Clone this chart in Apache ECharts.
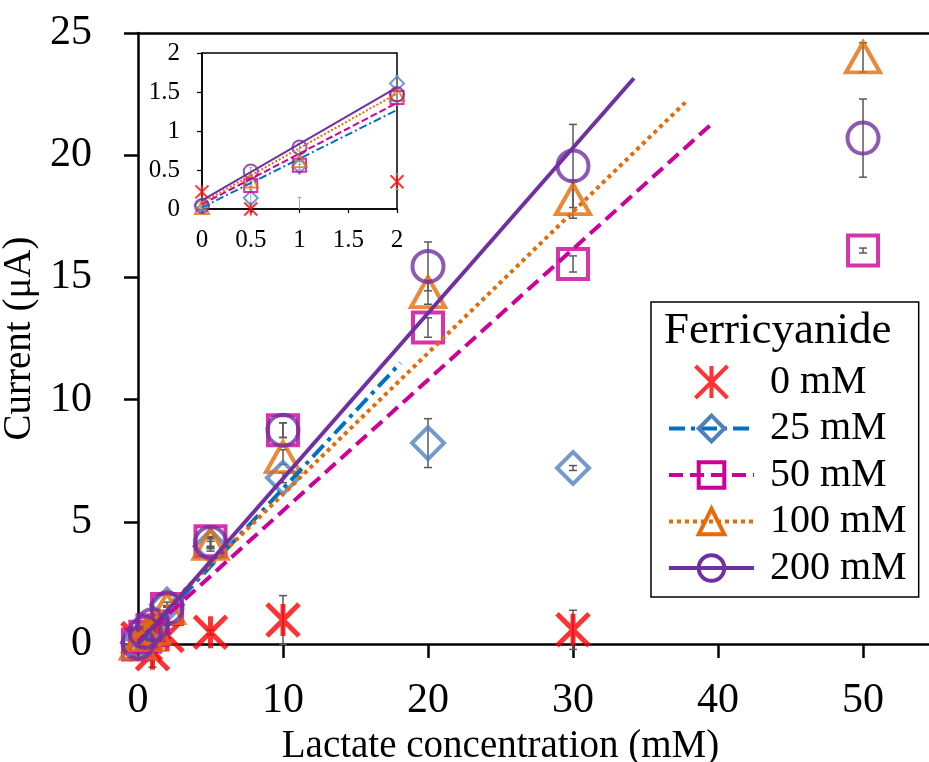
<!DOCTYPE html>
<html><head><meta charset="utf-8">
<script src="https://cdn.jsdelivr.net/npm/echarts@6/dist/echarts.min.js"></script>
<style>html,body{margin:0;padding:0;background:#fff}#c{width:929px;height:762px}</style>
</head><body><div id="c"></div>
<script>
// ---------- data ----------
const lactate = [0, 0.5, 1, 2, 5, 10, 20, 30, 50];          // mM
const seriesNames = ['0 mM', '25 mM', '50 mM', '100 mM', '200 mM'];
const cur0   = [0.22, 0.0, -0.4, 0.35, 0.48, 0.98, null, 0.58, null];
const cur25  = [0.05, 0.14, 0.55, 1.61, 4.0, 6.8, 8.22, 7.2, null];
const cur50  = [-0.02, 0.3, 0.56, 1.43, 4.2, 8.75, 12.95, 15.55, 16.1];
const cur100 = [0.02, 0.36, 0.62, 1.47, 4.1, 7.65, 14.4, 18.2, 24.0];
const cur200 = [0.04, 0.48, 0.79, 1.47, 4.15, 8.75, 15.45, 19.56, 20.7];
const err0   = [0.05, 0.05, 0.55, 0.1, 0.1, 1.0, null, 0.8, null];
const err25  = [0.02, 0.15, 0.1, 0.1, 0.2, 0.2, 1.0, 0.1, null];
const err50  = [0.02, 0.05, 0.05, 0.1, 0.2, 0.3, 0.4, 0.33, 0.1];
const err100 = [0.02, 0.05, 0.05, 0.1, 0.2, 0.3, 0.5, 0.78, 0.6];
const err200 = [0.02, 0.05, 0.05, 0.1, 0.2, 0.3, 1.0, 1.7, 1.6];
// linear trend lines (main plot): x range and fitted y at both ends
const fitX25 = [0, 18.1],  fitY25 = [0.0, 11.5];
const fitX50 = [0, 39.6],  fitY50 = [0.1, 21.3];
const fitX100 = [0, 37.9], fitY100 = [0.35, 22.25];
const fitX200 = [0, 34.2], fitY200 = [0.0, 23.15];
// inset trend lines (0–2 mM)
const insetFitX = [0, 2];
const insetFitY25 = [0.02, 1.27];
const insetFitY50 = [0.06, 1.36];
const insetFitY100 = [0.08, 1.48];
const insetFitY200 = [0.11, 1.56];
// axis ticks
const mainXTicks = [0, 10, 20, 30, 40, 50];
const mainYTicks = [0, 5, 10, 15, 20, 25];
const insetTicks = [0, 0.5, 1, 1.5, 2];

// ---------- styling ----------
const FONT = 'Liberation Serif';
const curs = [cur0, cur25, cur50, cur100, cur200];
const errs = [err0, err25, err50, err100, err200];
const fitsX = [null, fitX25, fitX50, fitX100, fitX200];
const fitsY = [null, fitY25, fitY50, fitY100, fitY200];
const insetFits = [null, insetFitY25, insetFitY50, insetFitY100, insetFitY200];
const markerColors = ['#FF0000', '#4F81BD', '#CC0099', '#E36C09', '#7030A0'];
const lineColors = ['#FF0000', '#0070C0', '#CC0099', '#E36C09', '#7030A0'];
const ASTER = 'path://M0,0L20,20M20,0L0,20M10,0L10,20';
const symbols = [ASTER, 'diamond', 'rect', 'triangle', 'circle'];
const mainSizes = [32, 32, 30, [34, 30], 31];
const insetSizes = [13, 14, 13, [14, 13], 14];
const mainBorder = [5, 4, 4, 4, 4];
const dashMain = [null, [16, 6, 4, 6], [14, 7], [4, 4], 'solid'];
const dashInset = [null, [8, 3, 2, 3], [7, 3], [2, 2], 'solid'];

function pts(xs, ys, maxX) {
  const out = [];
  for (let i = 0; i < xs.length; i++) {
    if (ys[i] === null || xs[i] > maxX) continue;
    out.push([xs[i], ys[i]]);
  }
  return out;
}
function errPts(xs, ys, es, maxX) {
  const out = [];
  for (let i = 0; i < xs.length; i++) {
    if (ys[i] === null || es[i] === null || xs[i] > maxX) continue;
    out.push([xs[i], ys[i], es[i]]);
  }
  return out;
}
function errRenderer(cap, color, width, clipY) {
  return function (params, api) {
    const x = api.value(0), y = api.value(1), e = api.value(2);
    let lo = y - e, hi = y + e;
    let capLo = true, capHi = true;
    if (clipY) {
      if (lo < clipY[0]) { lo = clipY[0]; capLo = false; }
      if (hi > clipY[1]) { hi = clipY[1]; capHi = false; }
    }
    const t = api.coord([x, hi]), b = api.coord([x, lo]);
    const st = { stroke: color, lineWidth: width };
    const ch = [{ type: 'line', shape: { x1: t[0], y1: t[1], x2: b[0], y2: b[1] }, style: st }];
    if (capHi) ch.push({ type: 'line', shape: { x1: t[0] - cap, y1: t[1], x2: t[0] + cap, y2: t[1] }, style: st });
    if (capLo) ch.push({ type: 'line', shape: { x1: b[0] - cap, y1: b[1], x2: b[0] + cap, y2: b[1] }, style: st });
    return { type: 'group', children: ch };
  };
}

const series = [];
for (let k = 0; k < 5; k++) {
  const name = seriesNames[k];
  if (fitsX[k]) {
    series.push({
      name: name, type: 'line', xAxisIndex: 0, yAxisIndex: 0,
      data: fitsX[k].map((x, i) => [x, fitsY[k][i]]),
      symbol: symbols[k], showSymbol: false, symbolSize: mainSizes[k],
      itemStyle: { color: 'rgba(255,255,255,0)', borderColor: markerColors[k], borderWidth: 4 },
      lineStyle: { color: lineColors[k], width: 4, type: dashMain[k], cap: 'butt' },
      z: 4, silent: true, animation: false
    });
  }
  series.push({
    name: name + ' err', type: 'custom', xAxisIndex: 0, yAxisIndex: 0,
    data: errPts(lactate, curs[k], errs[k], 100),
    renderItem: errRenderer(4, '#595959', 1.5, null),
    encode: { x: 0, y: 1 }, z: 1, silent: true, animation: false
  });
  series.push({
    name: name, type: 'scatter', xAxisIndex: 0, yAxisIndex: 0,
    data: pts(lactate, curs[k], 100),
    symbol: symbols[k], symbolSize: mainSizes[k], clip: false,
    itemStyle: { color: 'rgba(255,255,255,0)', borderColor: markerColors[k], borderWidth: mainBorder[k] },
    z: 2, silent: true, animation: false
  });
  if (insetFits[k]) {
    series.push({
      name: name + ' inset fit', type: 'line', xAxisIndex: 1, yAxisIndex: 1,
      data: insetFitX.map((x, i) => [x, insetFits[k][i]]),
      showSymbol: false, symbol: 'none',
      lineStyle: { color: lineColors[k], width: 2, type: dashInset[k] },
      z: 4, silent: true, animation: false
    });
  }
  series.push({
    name: name + ' inset err', type: 'custom', xAxisIndex: 1, yAxisIndex: 1,
    data: errPts(lactate, curs[k], errs[k], 2),
    renderItem: errRenderer(2, '#A6A6A6', 1, [insetTicks[0], insetTicks[insetTicks.length - 1]]),
    encode: { x: 0, y: 1 }, z: 1, silent: true, animation: false
  });
  series.push({
    name: name + ' inset', type: 'scatter', xAxisIndex: 1, yAxisIndex: 1,
    data: pts(lactate, curs[k], 2),
    symbol: symbols[k], symbolSize: insetSizes[k], clip: true,
    itemStyle: { color: 'rgba(255,255,255,0)', borderColor: markerColors[k], borderWidth: 2 },
    z: 2, silent: true, animation: false
  });
}

const axisLineMain = { show: true, lineStyle: { color: '#000', width: 2.5 } };
const axisLineInset = { show: true, lineStyle: { color: '#000', width: 1.5 } };

const option = {
  backgroundColor: '#fff',
  animation: false,
  title: {
    text: 'Ferricyanide', left: 659, top: 304,
    textStyle: { fontFamily: FONT, fontSize: 45, fontWeight: 'normal', color: '#000' }
  },
  legend: {
    data: seriesNames, orient: 'vertical', left: 651, top: 302,
    padding: [57, 12, 6, 16], itemGap: 0.5,
    itemWidth: 85, itemHeight: 32,
    borderColor: '#000', borderWidth: 1.5, backgroundColor: '#fff',
    lineStyle: { width: 4 },
    itemStyle: { borderWidth: 4 },
    textStyle: { fontFamily: FONT, fontSize: 40, color: '#000', lineHeight: 46, padding: [0, 0, 0, 11] },
    selectedMode: false
  },
  grid: [
    { left: 138, top: 33, width: 791, height: 611, containLabel: false, outerBoundsMode: 'none' },
    { left: 202, top: 53, width: 195, height: 156, show: true, borderColor: '#000', borderWidth: 1.5,
      backgroundColor: 'rgba(255,255,255,0)', containLabel: false, outerBoundsMode: 'none' }
  ],
  xAxis: [
    { type: 'value', gridIndex: 0, min: mainXTicks[0], max: 54.55, interval: mainXTicks[1] - mainXTicks[0],
      axisLine: axisLineMain, axisTick: { show: true, inside: false, length: 14, lineStyle: { width: 2.5, color: '#000' } },
      axisLabel: { fontFamily: FONT, fontSize: 42, color: '#000', margin: 36, showMaxLabel: false },
      splitLine: { show: false },
      name: 'Lactate concentration (mM)', nameLocation: 'middle', nameGap: 77,
      nameTextStyle: { fontFamily: FONT, fontSize: 39, color: '#000', padding: [0, 66, 0, 0] } },
    { type: 'value', gridIndex: 1, min: insetTicks[0], max: insetTicks[insetTicks.length - 1], interval: insetTicks[1] - insetTicks[0],
      axisLine: axisLineInset, axisTick: { show: true, length: 4, lineStyle: { width: 1.2, color: '#000' } },
      axisLabel: { fontFamily: FONT, fontSize: 25, color: '#000', margin: 19 },
      splitLine: { show: false } },
    { type: 'value', gridIndex: 0, position: 'top', min: mainXTicks[0], max: 54.55,
      axisLine: axisLineMain, axisTick: { show: false }, axisLabel: { show: false }, splitLine: { show: false } }
  ],
  yAxis: [
    { type: 'value', gridIndex: 0, min: mainYTicks[0], max: mainYTicks[mainYTicks.length - 1], interval: mainYTicks[1] - mainYTicks[0],
      axisLine: axisLineMain, axisTick: { show: true, length: 14, lineStyle: { width: 2.5, color: '#000' } },
      axisLabel: { fontFamily: FONT, fontSize: 42, color: '#000', margin: 46 },
      splitLine: { show: false },
      name: 'Current (μA)', nameLocation: 'middle', nameGap: 88,
      nameTextStyle: { fontFamily: FONT, fontSize: 39, color: '#000' } },
    { type: 'value', gridIndex: 1, min: insetTicks[0], max: insetTicks[insetTicks.length - 1], interval: insetTicks[1] - insetTicks[0],
      axisLine: axisLineInset, axisTick: { show: true, length: 5, lineStyle: { width: 1.2, color: '#000' } },
      axisLabel: { fontFamily: FONT, fontSize: 25, color: '#000', margin: 22 },
      splitLine: { show: false } }
  ],
  series: series
};
const chart = echarts.init(document.getElementById('c'), null, { renderer: 'canvas' });
chart.setOption(option);
</script>
</body></html>
